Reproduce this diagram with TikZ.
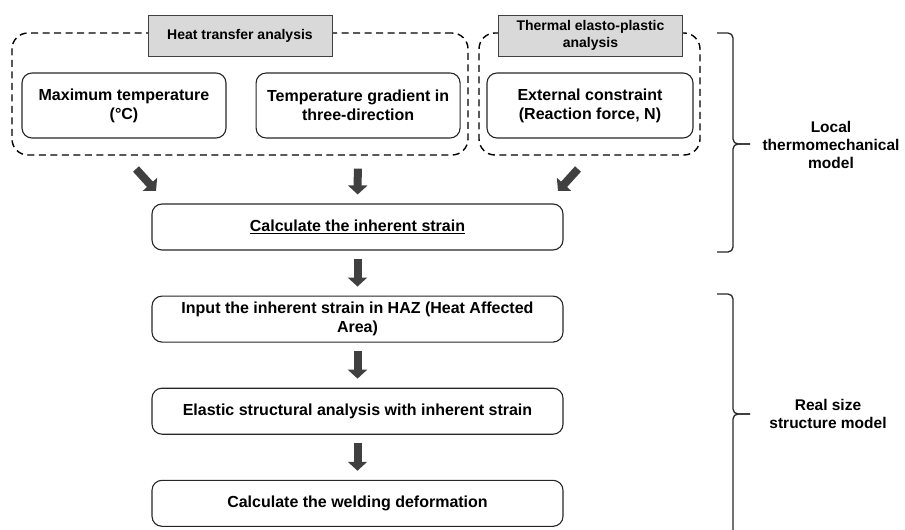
\documentclass[tikz,border=0pt]{standalone}
\usepackage{fontspec}
\setmainfont{Liberation Sans}[BoldFont={Liberation Sans Bold}]
\usepackage{tikz}
\usetikzlibrary{arrows.meta,positioning,fit}
\definecolor{mArrowGray}{HTML}{404040}
\definecolor{mTitleGray}{HTML}{D9D9D9}
\definecolor{mLineGray}{HTML}{262626}

\begin{document}
\begin{tikzpicture}[x=1pt, y=-1pt,
        node distance=45pt,
        box/.style={draw=mLineGray, line width=1.1pt, rounded corners=10pt, align=center,
                    minimum width=204pt, minimum height=65pt, inner sep=0pt,
                    font=\fontsize{16}{19}\selectfont\bfseries},
        flowbox/.style={box, minimum width=411pt, minimum height=46pt},
        titlebox/.style={draw=mArrowGray, line width=0.8pt, fill=mTitleGray, align=center,
                    minimum width=184pt, minimum height=41pt, inner sep=0pt,
                    font=\fontsize{14}{17}\selectfont\bfseries},
        grp/.style={draw=black, line width=1.4pt, dash pattern=on 7pt off 4.5pt,
                    rounded corners=16pt, inner sep=0pt},
        blk/.style={-{Triangle[width=19pt,length=9pt]}, line width=8pt, mArrowGray},
        brc/.style={draw=mLineGray, line width=1.3pt, rounded corners=5pt},
        side/.style={align=center, font=\fontsize{15.5}{18}\selectfont\bfseries},
    ]
        \useasboundingbox (0,0) rectangle (905,530);

        \node[grp, fit={(12,33) (468,155)}] (heatgrp) {};
        \node[grp, fit={(479,33) (700,155)}] (thermgrp) {};
        \node[titlebox] (htitle) at (240,35.5) {Heat transfer analysis};
        \node[titlebox] (ttitle) at (590.5,35.5) {Thermal elasto-plastic\\analysis};

        \node[box] (maxt) at (124,105.5) {Maximum temperature\\(°C)};
        \node[box, right=29pt of maxt] (tgrad) {Temperature gradient in\\three-direction};
        \node[box, minimum width=206pt] (extc) at (590,105.5) {External constraint\\(Reaction force, N)};

        \node[flowbox] (calc) at (357.5,227) {\underline{Calculate the inherent strain}};
        \node[flowbox, below=of calc] (haz) {Input the inherent strain in HAZ (Heat Affected\\Area)};
        \node[flowbox, below=of haz] (elast) {Elastic structural analysis with inherent strain};
        \node[flowbox, below=of elast] (weld) {Calculate the welding deformation};

        \coordinate (ltail) at (136,169);
        \coordinate (lhead) at (156,191);
        \coordinate (rtail) at (578,169);
        \coordinate (rhead) at (558,191);
        \draw[blk] (ltail) -- (lhead);
        \draw[blk] (rtail) -- (rhead);
        \draw[blk, shorten <=30pt, shorten >=9pt] (tgrad) -- (calc);
        \draw[blk, shorten <=8pt, shorten >=9pt] (calc) -- (haz);
        \draw[blk, shorten <=8pt, shorten >=9pt] (haz) -- (elast);
        \draw[blk, shorten <=8pt, shorten >=9pt] (elast) -- (weld);

        \coordinate (ltip) at (750,144);
        \draw[brc] (717,33) -- (733,33) -- (733,144) -- (ltip);
        \draw[brc] (ltip) -- (733,144) -- (733,252) -- (717,252);
        \node[side] (localtxt) at (831,145) {Local\\thermomechanical\\model};

        \coordinate (rtip) at (750,414);
        \draw[brc] (717,294) -- (733,294) -- (733,414) -- (rtip);
        \draw[brc] (rtip) -- (733,414) -- (733,545);
        \node[side] (realtxt) at (828,414) {Real size\\structure model};
    \end{tikzpicture}
\end{document}
